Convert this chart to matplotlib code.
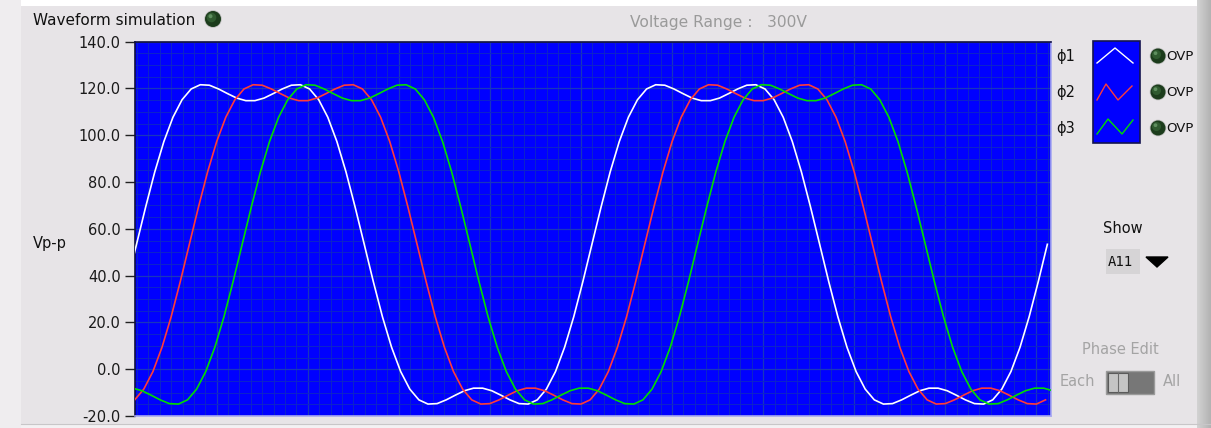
import numpy as np
import matplotlib
matplotlib.use("Agg")
import matplotlib.pyplot as plt
from matplotlib.patches import Rectangle, Circle, Polygon

plt.rcParams['font.family'] = ['DejaVu Sans']
plt.rcParams['axes.unicode_minus'] = False

# ---- data (sample index on x, Vp-p on y) ----
phi1_x = np.arange(-8, 1003, 10)
phi1 = [37.4,
        53.4, 69.3, 84.3, 97.3, 107.7, 115.2, 119.8, 121.6, 121.4, 119.8, 117.8, 115.9, 114.8,
        114.8, 115.9, 117.8, 119.8, 121.4, 121.6, 119.8, 115.2, 107.7, 97.3, 84.3, 69.3,
        53.4, 37.4, 22.4, 9.4, -1.0, -8.5, -13.1, -14.9, -14.7, -13.1, -11.1, -9.2, -8.1,
        -8.1, -9.2, -11.1, -13.1, -14.7, -14.9, -13.1, -8.5, -1.0, 9.4, 22.4, 37.4,
        53.4, 69.3, 84.3, 97.3, 107.7, 115.2, 119.8, 121.6, 121.4, 119.8, 117.8, 115.9, 114.8,
        114.8, 115.9, 117.8, 119.8, 121.4, 121.6, 119.8, 115.2, 107.7, 97.3, 84.3, 69.3,
        53.4, 37.4, 22.4, 9.4, -1.0, -8.5, -13.1, -14.9, -14.7, -13.1, -11.1, -9.2, -8.1,
        -8.1, -9.2, -11.1, -13.1, -14.7, -14.9, -13.1, -8.5, -1.0, 9.4, 22.4, 37.4,
        53.4]

phi2_x = np.arange(0, 1001, 10)
phi2 = [-13.1, -8.5, -1.0, 9.4, 22.4, 37.4,
        53.4, 69.3, 84.3, 97.3, 107.7, 115.2, 119.8, 121.6, 121.4, 119.8, 117.8, 115.9, 114.8,
        114.8, 115.9, 117.8, 119.8, 121.4, 121.6, 119.8, 115.2, 107.7, 97.3, 84.3, 69.3,
        53.4, 37.4, 22.4, 9.4, -1.0, -8.5, -13.1, -14.9, -14.7, -13.1, -11.1, -9.2, -8.1,
        -8.1, -9.2, -11.1, -13.1, -14.7, -14.9, -13.1, -8.5, -1.0, 9.4, 22.4, 37.4,
        53.4, 69.3, 84.3, 97.3, 107.7, 115.2, 119.8, 121.6, 121.4, 119.8, 117.8, 115.9, 114.8,
        114.8, 115.9, 117.8, 119.8, 121.4, 121.6, 119.8, 115.2, 107.7, 97.3, 84.3, 69.3,
        53.4, 37.4, 22.4, 9.4, -1.0, -8.5, -13.1, -14.9, -14.7, -13.1, -11.1, -9.2, -8.1,
        -8.1, -9.2, -11.1, -13.1, -14.7, -14.9, -13.1]

phi3_x = np.arange(-2, 1009, 10)
phi3 = [-8.1, -9.2, -11.1, -13.1, -14.7, -14.9, -13.1, -8.5, -1.0, 9.4, 22.4, 37.4,
        53.4, 69.3, 84.3, 97.3, 107.7, 115.2, 119.8, 121.6, 121.4, 119.8, 117.8, 115.9, 114.8,
        114.8, 115.9, 117.8, 119.8, 121.4, 121.6, 119.8, 115.2, 107.7, 97.3, 84.3, 69.3,
        53.4, 37.4, 22.4, 9.4, -1.0, -8.5, -13.1, -14.9, -14.7, -13.1, -11.1, -9.2, -8.1,
        -8.1, -9.2, -11.1, -13.1, -14.7, -14.9, -13.1, -8.5, -1.0, 9.4, 22.4, 37.4,
        53.4, 69.3, 84.3, 97.3, 107.7, 115.2, 119.8, 121.6, 121.4, 119.8, 117.8, 115.9, 114.8,
        114.8, 115.9, 117.8, 119.8, 121.4, 121.6, 119.8, 115.2, 107.7, 97.3, 84.3, 69.3,
        53.4, 37.4, 22.4, 9.4, -1.0, -8.5, -13.1, -14.9, -14.7, -13.1, -11.1, -9.2, -8.1,
        -8.1, -9.2]

series_names = ["\u03d51", "\u03d52", "\u03d53"]
series_colors = ["#ffffff", "#ff3a3a", "#00dd00"]
y_ticks = [-20, 0, 20, 40, 60, 80, 100, 120, 140]
y_ticklabels = ["-20.0", "0.0", "20.0", "40.0", "60.0", "80.0", "100.0", "120.0", "140.0"]

# ---- figure ----
W, H = 1211, 428
BG = "#e7e4e7"
fig = plt.figure(figsize=(W / 100, H / 100), dpi=100, facecolor=BG)

# pixel overlay for panel decorations
ov = fig.add_axes([0, 0, 1, 1])
ov.set_xlim(0, W)
ov.set_ylim(H, 0)
ov.axis("off")
ov.set_zorder(0)

ov.add_patch(Rectangle((0, 0), W, 6, color="white", lw=0))
ov.add_patch(Rectangle((0, 0), 21, H, color="#efedef", lw=0))
ov.add_patch(Rectangle((21, 424), W, 4, color="#f3f1f3", lw=0))
ov.plot([21, W], [424, 424], color="#c8c6c8", lw=0.8)
# right gradient band
grad = np.linspace(0.82, 0.70, 14).reshape(1, -1)
ov.imshow(np.repeat(grad, 2, axis=0), cmap="gray", vmin=0, vmax=1,
          extent=(1197, 1211, H, 0), aspect="auto", zorder=1)
ov.set_xlim(0, W)
ov.set_ylim(H, 0)


def led(x, y, r=7.5):
    ov.add_patch(Circle((x, y), r + 0.8, color="#bdbdbd", lw=0, zorder=3))
    ov.add_patch(Circle((x, y), r, color="#1c3c1c", lw=0, zorder=4))
    ov.add_patch(Circle((x - 1.5, y - 1.5), r * 0.6, color="#2f5a2f", lw=0, zorder=5))
    ov.add_patch(Circle((x - 2.5, y - 2.8), r * 0.25, color="#5f8f5f", lw=0, zorder=6))


ov.text(33, 20, "Waveform simulation", fontsize=11, color="#111111", va="center", ha="left")
led(213, 19, 8)
ov.text(630, 22, "Voltage Range :   300V", fontsize=11.2, color="#9a9a9a", va="center", ha="left")
ov.text(33, 243, "Vp-p", fontsize=10.5, color="#111111", va="center", ha="left")

# legend
rows = [56, 92, 128]
ov.add_patch(Rectangle((1093, 41), 47, 102, facecolor="#0000ff", edgecolor="#141450", lw=1.2, zorder=3))
zig = [
    ([1097, 1115, 1133], [63, 48, 63]),
    ([1097, 1106, 1118, 1132], [100, 84, 100, 86]),
    ([1097, 1108, 1122, 1133], [134, 119, 134, 120]),
]
for name, col, yy, (zx, zy) in zip(series_names, series_colors, rows, zig):
    ov.text(1056, yy, name, fontsize=10.5, color="#111111", va="center", ha="left")
    ov.plot(zx, zy, color=col, lw=1.0, zorder=4)
    led(1158, yy, 7.5)
    ov.text(1166, yy, "OVP", fontsize=9.5, color="#111111", va="center", ha="left")

# Show selector
ov.text(1123, 228, "Show", fontsize=10.5, color="#111111", va="center", ha="center")
ov.add_patch(Rectangle((1106, 249), 34, 25, color="#d6d4d6", lw=0, zorder=3))
ov.text(1108, 262, "A11", fontsize=10, color="#111111", va="center", ha="left",
        family="DejaVu Sans Mono", zorder=4)
ov.add_patch(Polygon([[1146, 257], [1168, 257], [1157, 267]], closed=True, color="black", zorder=4))

# Phase edit switch
ov.text(1120, 349, "Phase Edit", fontsize=10.5, color="#a4a4a4", va="center", ha="center")
ov.text(1060, 382, "Each", fontsize=10.5, color="#a4a4a4", va="center", ha="left")
ov.text(1163, 382, "All", fontsize=10.5, color="#a4a4a4", va="center", ha="left")
ov.add_patch(Rectangle((1106, 371), 48, 23, facecolor="#777777", edgecolor="#9a9a9a", lw=1.0, zorder=3))
ov.add_patch(Rectangle((1108, 373), 20, 19, facecolor="#c4c4c4", edgecolor="#5a5a5a", lw=0.8, zorder=4))
ov.plot([1117.5, 1117.5], [373, 392], color="#6a6a6a", lw=0.8, zorder=5)

# ---- main graph ----
ax = fig.add_axes([134.7 / W, (H - 416) / H, 916.3 / W, 374.3 / H])
ax.set_zorder(2)
ax.set_facecolor("#0000ff")
for x, y, c in zip([phi1_x, phi2_x, phi3_x], [phi1, phi2, phi3], series_colors):
    ax.plot(x, y, color=c, lw=1.2, solid_joinstyle="round", zorder=3)

ax.set_xlim(0, 1006)
ax.set_ylim(-20, 140)
ax.set_xticks(np.arange(90, 1000, 100))
ax.set_xticks(np.arange(2.5, 1006, 12.5), minor=True)
ax.set_yticks(y_ticks)
ax.set_yticklabels(y_ticklabels)
ax.set_yticks(np.arange(-20, 141, 5), minor=True)
ax.grid(which="minor", color="#0b22cc", lw=0.75, zorder=1)
ax.grid(which="major", color="#1836bc", lw=0.9, zorder=1)
ax.tick_params(axis="x", which="both", bottom=False, labelbottom=False)
ax.tick_params(axis="y", which="minor", left=False)
ax.tick_params(axis="y", which="major", length=7, width=1.0, color="#222222",
               labelsize=10.5, labelcolor="#1a1a1a", pad=3)
ax.set_axisbelow(True)
for s in ["top", "left"]:
    ax.spines[s].set_color("#101040")
    ax.spines[s].set_linewidth(1.2)
for s in ["bottom", "right"]:
    ax.spines[s].set_color("#a8a8f0")
    ax.spines[s].set_linewidth(1.2)

fig.savefig("out.png", dpi=100, facecolor=BG)
